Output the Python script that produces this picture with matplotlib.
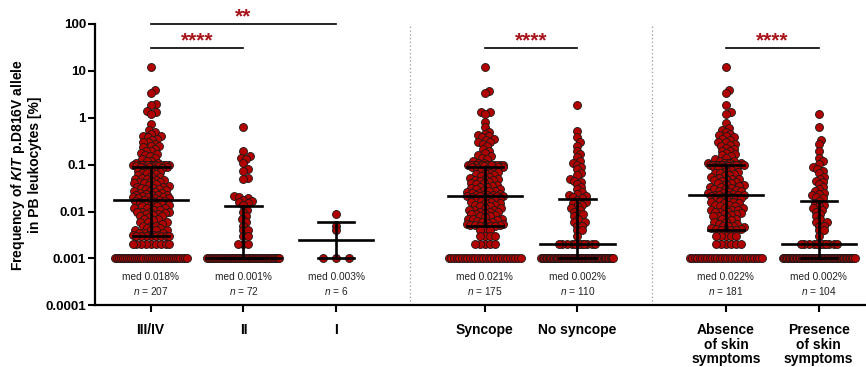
import numpy as np
import matplotlib
matplotlib.use("Agg")
import matplotlib.pyplot as plt
from matplotlib import rcParams
from matplotlib.ticker import NullLocator
from matplotlib.transforms import blended_transform_factory

rcParams['font.family'] = ['Liberation Sans', 'DejaVu Sans']
rcParams['mathtext.fontset'] = 'custom'
rcParams['mathtext.rm'] = 'Liberation Sans'
rcParams['mathtext.it'] = 'Liberation Sans:italic'
rcParams['mathtext.bf'] = 'Liberation Sans:italic:bold'

# Data (% KIT D816V allele burden)
grade_3_4 = ([12.0, 3.9, 3.4, 2.0, 1.9, 1.4, 1.3, 1.2,
              0.75, 0.55, 0.5, 0.45, 0.4, 0.4, 0.38, 0.35, 0.33, 0.3, 0.3, 0.28, 0.25, 0.25,
              0.24, 0.22, 0.2, 0.2, 0.18, 0.17, 0.16, 0.15, 0.14, 0.13, 0.12, 0.12, 0.11, 0.11]
             + [0.1] * 12 + [0.095, 0.092, 0.09, 0.09]
             + [0.088, 0.085, 0.08, 0.08, 0.075, 0.072, 0.07, 0.068, 0.065, 0.062, 0.06, 0.058,
                0.055, 0.052, 0.05, 0.05, 0.048, 0.046, 0.045, 0.043, 0.042, 0.04, 0.04, 0.038,
                0.037, 0.035, 0.034, 0.033, 0.032, 0.031, 0.03, 0.03, 0.029, 0.028, 0.027, 0.026,
                0.025, 0.025, 0.024, 0.023, 0.023, 0.022, 0.022, 0.021, 0.02, 0.02, 0.02, 0.019,
                0.019, 0.019, 0.018, 0.018]
             + [0.018, 0.017, 0.017, 0.016, 0.016, 0.015, 0.015, 0.014, 0.014, 0.013, 0.013, 0.012,
                0.012, 0.012, 0.011, 0.011, 0.01, 0.01, 0.01, 0.01, 0.0095, 0.009, 0.009, 0.0085,
                0.008, 0.008, 0.0075, 0.007, 0.007, 0.0065, 0.006, 0.006, 0.006, 0.0055, 0.005,
                0.005, 0.005, 0.0045, 0.0045, 0.004, 0.004, 0.004, 0.004, 0.0035, 0.0035, 0.0035,
                0.0032, 0.0032, 0.0031, 0.0031]
             + [0.003] * 8 + [0.002] * 9 + [0.001] * 36)

grade_2 = ([0.65, 0.2, 0.15, 0.14, 0.13, 0.11, 0.08, 0.075, 0.053, 0.05, 0.021, 0.02, 0.019,
            0.018, 0.017, 0.016, 0.015, 0.014,
            0.011, 0.01, 0.008, 0.007, 0.006, 0.005, 0.004, 0.004, 0.003, 0.003]
           + [0.002] * 3 + [0.001] * 41)

grade_1 = [0.009, 0.005, 0.004, 0.001, 0.001, 0.001]

syncope = ([12.4, 3.8, 3.3, 1.35, 1.3, 1.2,
            0.8, 0.63, 0.5, 0.45, 0.42, 0.4, 0.38, 0.35, 0.33, 0.3, 0.3, 0.28, 0.25, 0.22, 0.2,
            0.18, 0.16, 0.15, 0.14, 0.13, 0.12, 0.11, 0.11]
           + [0.1] * 12 + [0.095, 0.09, 0.09]
           + [0.088, 0.085, 0.08, 0.078, 0.075, 0.07, 0.068, 0.065, 0.062, 0.06, 0.057, 0.055,
              0.052, 0.05, 0.05, 0.048, 0.046, 0.044, 0.042, 0.04, 0.04, 0.038, 0.036, 0.035,
              0.034, 0.033, 0.032, 0.03, 0.03, 0.029, 0.028, 0.027, 0.026, 0.025, 0.025, 0.024,
              0.023, 0.023, 0.022, 0.022, 0.021, 0.021, 0.021, 0.021]
           + [0.02, 0.02, 0.019, 0.019, 0.018, 0.018, 0.017, 0.016, 0.016, 0.015, 0.015, 0.014,
              0.014, 0.013, 0.013, 0.012, 0.012, 0.011, 0.011, 0.011, 0.01, 0.01, 0.01, 0.0095,
              0.009, 0.009, 0.0085, 0.008, 0.008, 0.0075, 0.007, 0.007, 0.0068, 0.0065, 0.0062,
              0.006, 0.006, 0.0058, 0.0055, 0.0055, 0.0052, 0.0052, 0.0051]
           + [0.005] * 4 + [0.004] * 3 + [0.003] * 4 + [0.002] * 5 + [0.001] * 28)

no_syncope = ([1.9, 0.53, 0.39, 0.3, 0.25, 0.2, 0.17, 0.145, 0.12, 0.11, 0.1, 0.09, 0.079,
               0.068, 0.06, 0.05, 0.045, 0.043, 0.038, 0.033, 0.03, 0.026, 0.024, 0.022, 0.021,
               0.02, 0.019, 0.018,
               0.016, 0.015, 0.014, 0.013, 0.012, 0.011, 0.01, 0.009, 0.009, 0.008, 0.007, 0.006,
               0.006, 0.005, 0.005, 0.004, 0.004, 0.003]
              + [0.002] * 12 + [0.001] * 52)

skin_absent = ([12.4, 4.0, 3.3, 1.9, 1.3, 1.2,
                0.77, 0.6, 0.55, 0.5, 0.45, 0.42, 0.4, 0.38, 0.35, 0.33, 0.3, 0.3, 0.28, 0.26,
                0.25, 0.23, 0.22, 0.2, 0.2, 0.18, 0.17, 0.16, 0.15, 0.14, 0.13, 0.12, 0.12, 0.11,
                0.11]
               + [0.11] * 3 + [0.1] * 10
               + [0.095, 0.09, 0.088, 0.085, 0.08, 0.078, 0.075, 0.07, 0.068, 0.065, 0.062, 0.06,
                  0.057, 0.055, 0.052, 0.05, 0.05, 0.048, 0.046, 0.044, 0.042, 0.04, 0.04, 0.038,
                  0.036, 0.035, 0.034, 0.033, 0.032, 0.03, 0.03, 0.029, 0.028, 0.027, 0.026,
                  0.025, 0.025, 0.024, 0.023, 0.023, 0.022, 0.022, 0.022]
               + [0.021, 0.02, 0.02, 0.019, 0.019, 0.018, 0.018, 0.017, 0.016, 0.016, 0.015,
                  0.015, 0.014, 0.014, 0.013, 0.013, 0.012, 0.012, 0.011, 0.011, 0.011, 0.01, 0.01,
                  0.01, 0.0095, 0.009, 0.009, 0.0085, 0.008, 0.008, 0.0075, 0.007, 0.007, 0.0065,
                  0.006, 0.006, 0.0055, 0.0055, 0.005, 0.005, 0.0048, 0.0046, 0.0044, 0.0042,
                  0.0042]
               + [0.004] * 4 + [0.003] * 5 + [0.002] * 6 + [0.001] * 30)

skin_present = ([1.2, 0.63, 0.34, 0.28, 0.2, 0.14, 0.12, 0.105, 0.09, 0.08, 0.075, 0.065, 0.055,
                 0.05, 0.045, 0.042, 0.038, 0.033, 0.03, 0.027, 0.025, 0.024, 0.022, 0.02, 0.019,
                 0.017,
                 0.015, 0.014, 0.013, 0.012, 0.011, 0.01, 0.009, 0.008, 0.007, 0.006, 0.006, 0.005,
                 0.005, 0.004, 0.004, 0.003]
                + [0.002] * 12 + [0.001] * 50)

groups = [grade_3_4, grade_2, grade_1, syncope, no_syncope, skin_absent, skin_present]
categories = ["III/IV", "II", "I", "Syncope", "No syncope",
              "Absence\nof skin\nsymptoms", "Presence\nof skin\nsymptoms"]
med_labels = ["med 0.018%", "med 0.001%", "med 0.003%", "med 0.021%", "med 0.002%",
              "med 0.022%", "med 0.002%"]
comparisons = [(0, 2, "**"), (0, 1, "****"), (3, 4, "****"), (5, 6, "****")]
ytick_vals = [0.0001, 0.001, 0.01, 0.1, 1, 10, 100]
ytick_labels = ["0.0001", "0.001", "0.01", "0.1", "1", "10", "100"]

# layout
positions = [0, 1, 2, 3.6, 4.6, 6.2, 7.2]
separators = [2.8, 5.4]
bar_heights = [100, 31, 31, 31]
px_per_unit = 92.8
px_per_decade = 46.9
dot_red = "#B00000"
star_red = "#A8141C"


def swarm(vals, diam=8.0, sep=0.55, maxw_floor=36.0, maxw=18.0):
    ys = np.log10(vals) * px_per_decade
    xs = np.zeros(len(vals))
    floor = ys.min()
    # detection-limit row: spread evenly along one line
    fl = np.where(ys == floor)[0]
    if len(fl) > 1:
        gap = min(13.0, 2 * maxw_floor / (len(fl) - 1))
        xs[fl] = (np.arange(len(fl)) - (len(fl) - 1) / 2) * gap
    mind = diam * sep
    steps = np.arange(1, maxw + 0.1, 1.0)
    cand = np.concatenate([[0.0], np.column_stack([steps, -steps]).ravel()])
    placed = [] if len(fl) <= 1 else list(fl)
    for i in np.argsort(ys, kind="stable"):
        if i in placed:
            continue
        y = ys[i]
        near = [j for j in placed if abs(ys[j] - y) < mind]
        if near:
            px = xs[near]
            py = ys[near]
            d = np.sqrt((cand[:, None] - px[None, :]) ** 2 + (y - py[None, :]) ** 2).min(axis=1)
            ok = np.where(d >= mind)[0]
            xs[i] = cand[ok[0]] if len(ok) else cand[np.argmax(d)]
        placed.append(i)
    return xs / px_per_unit


fig = plt.figure(figsize=(8.66, 3.67), dpi=100)
ax = fig.add_axes([95 / 866, 1 - 305.3 / 367, 1 - 95 / 866, (305.3 - 24) / 367])
ax.set_yscale('log')
ax.set_ylim(1e-4, 100)
ax.set_xlim(-0.6, 7.71)

blend = blended_transform_factory(ax.transData, ax.transAxes)

for pos, vals, mlab in zip(positions, groups, med_labels):
    vals = np.array(vals, dtype=float)
    xs = swarm(vals)
    ax.scatter(pos + xs, vals, s=33, color=dot_red, edgecolor="#1a1a1a", linewidth=0.6, zorder=2)
    med = np.median(vals)
    q1, q3 = np.percentile(vals, [25, 75], method="weibull")
    ax.plot([pos - 0.4, pos + 0.4], [med, med], color="black", lw=1.9, zorder=3)
    ax.plot([pos, pos], [q1, q3], color="black", lw=1.9, zorder=3)
    for q in (q1, q3):
        ax.plot([pos - 0.195, pos + 0.195], [q, q], color="black", lw=1.9, zorder=3)
    ax.text(pos, 0.1, mlab, transform=blend, ha="center", va="center", fontsize=7.3,
            color="#222222")
    ax.text(pos, 0.05, r"$\mathit{n}$ = %d" % len(vals), transform=blend, ha="center",
            va="center", fontsize=7.3, color="#222222")

for xsep in separators:
    ax.axvline(xsep, color="#9a9a9a", lw=0.9, ls=(0, (1, 2)), zorder=1)

for (a, b, stars), h in zip(comparisons, bar_heights):
    x1, x2 = positions[a], positions[b]
    ax.plot([x1, x2], [h, h], color="black", lw=1.2, clip_on=False, zorder=3)
    ax.annotate(stars, xy=((x1 + x2) / 2, h), xytext=(0, 1.2), textcoords="offset points",
                ha="center", va="baseline", color=star_red, fontsize=15, fontweight="bold",
                annotation_clip=False)

ax.set_yticks(ytick_vals, ytick_labels)
ax.yaxis.set_minor_locator(NullLocator())
ax.set_xticks(positions, categories)
for lab in ax.get_xticklabels():
    lab.set_linespacing(1.05)
ax.tick_params(axis="y", length=5, width=1.5, pad=1.5, labelsize=9.6)
ax.tick_params(axis="x", length=5, width=1.5, pad=8, labelsize=10)
for lab in ax.get_xticklabels() + ax.get_yticklabels():
    lab.set_fontweight("bold")

for side in ("top", "right"):
    ax.spines[side].set_visible(False)
for side in ("left", "bottom"):
    ax.spines[side].set_linewidth(1.6)

fig.text(25.5 / 866, 1 - 164.6 / 367,
         "Frequency of $\\mathbf{KIT}$ p.D816V allele\nin PB leukocytes [%]",
         rotation=90, ha="center", va="center", fontsize=10, fontweight="bold",
         multialignment="center", linespacing=1.15)

fig.savefig("out.png", dpi=100)
